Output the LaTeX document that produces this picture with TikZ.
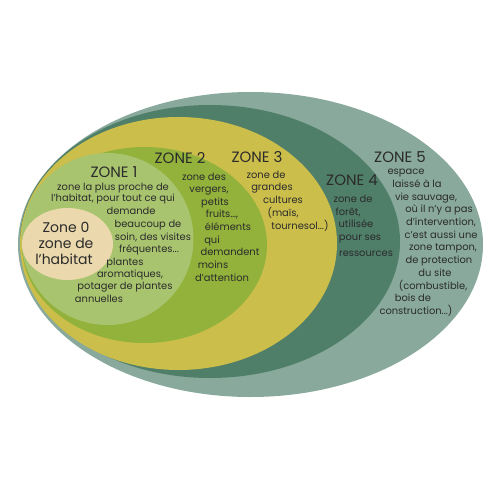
\documentclass[tikz,border=0pt]{standalone}
\usepackage{fontspec}
\setmainfont{Poppins}
\usetikzlibrary{shapes.geometric}
\definecolor{cz5}{HTML}{88A99B}
\definecolor{cz4}{HTML}{4F7E69}
\definecolor{cz3}{HTML}{CBBE4B}
\definecolor{cz2}{HTML}{92B23C}
\definecolor{cz1}{HTML}{A9C46F}
\definecolor{cz0}{HTML}{EBD8AC}
\definecolor{ink}{HTML}{2B2B2B}
\begin{document}
\begin{tikzpicture}[x=1pt,y=-1pt,
  zone/.style={ellipse,inner sep=0pt,draw=none},
  ztitle/.style={text=ink,font=\fontsize{15}{17}\selectfont,inner sep=0pt,anchor=base},
  zbig/.style={text=ink,font=\fontsize{14}{16}\selectfont,inner sep=0pt,anchor=base},
  txt/.style={text=ink,font=\fontsize{9.9}{12}\selectfont,inner sep=0pt,anchor=base}]
\fill[white] (0,0) rectangle (500,500);
\useasboundingbox (0,0) rectangle (500,500);
% zones
\node[zone,fill=cz5,minimum width=465pt,minimum height=305pt] (z5) at (250.5,244.5) {};
\node[zone,fill=cz4,minimum width=380pt,minimum height=273pt] (z4) at (210,241.5) {};
\node[zone,fill=cz3,minimum width=317pt,minimum height=253pt] (z3) at (178.5,243.5) {};
\node[zone,fill=cz2,minimum width=245pt,minimum height=196pt] (z2) at (144.5,245) {};
\node[zone,fill=cz1,minimum width=172pt,minimum height=172pt] (z1) at (107.5,239) {};
\node[zone,fill=cz0,minimum width=91pt,minimum height=72pt] (z0) at (67.5,244) {};
% titles
\node[ztitle] (t1) at (114,177) {ZONE 1};
\node[ztitle] (t2) at (180,163) {ZONE 2};
\node[ztitle] (t3) at (257,162) {ZONE 3};
\node[ztitle] (t4) at (352,185) {ZONE 4};
\node[ztitle] (t5) at (400,162) {ZONE 5};
% zone 0
\node[zbig] (a1) at (66,232) {Zone 0};
\node[zbig] (a2) at (66,248) {zone de};
\node[zbig] (a3) at (64,264) {l'habitat};
% zone 1
\foreach \t/\x/\y [count=\i] in {
  {zone la plus proche de}/113/190,
  {l'habitat, pour tout ce qui}/113/201,
  {demande}/131/214,
  {beaucoup de}/148/227,
  {soin, des visites}/153/240,
  {fréquentes...}/149/252,
  {plantes}/125/265,
  {aromatiques,}/130/277,
  {potager de plantes}/125/289,
  {annuelles}/99/302}
  \node[txt] (b\i) at (\x,\y) {\t};
% zone 2
\foreach \t/\x/\y [count=\i] in {
  {zone des}/204/180,
  {vergers,}/209/192,
  {petits}/215/205,
  {fruits…,}/222/217,
  {éléments}/228/230,
  {qui}/212/243,
  {demandent}/230/255,
  {moins}/213/268,
  {d'attention}/222/281}
  \node[txt] (c\i) at (\x,\y) {\t};
% zone 3
\foreach \t/\x/\y [count=\i] in {
  {zone de}/266/178,
  {grandes}/272/190,
  {cultures}/283/203,
  {(maïs,}/283/216,
  {tournesol...)}/300/229}
  \node[txt] (d\i) at (\x,\y) {\t};
% zone 4
\foreach \t/\x/\y [count=\i] in {
  {zone de}/353/202,
  {forêt,}/348/215,
  {utilisée}/356/227,
  {pour ses}/360/240,
  {ressources}/366/256}
  \node[txt] (e\i) at (\x,\y) {\t};
% zone 5
\foreach \t/\x/\y [count=\i] in {
  {espace}/406/174,
  {laissé à la}/417/187,
  {vie sauvage,}/426/200,
  {où il n'y a pas}/439/212,
  {d'intervention,}/441/225,
  {c'est aussi une}/441/238,
  {zone tampon,}/443/250,
  {de protection}/439/263,
  {du site}/435/276,
  {(combustible,}/433/289,
  {bois de}/413/301,
  {construction...)}/416/314}
  \node[txt] (f\i) at (\x,\y) {\t};
\end{tikzpicture}
\end{document}
